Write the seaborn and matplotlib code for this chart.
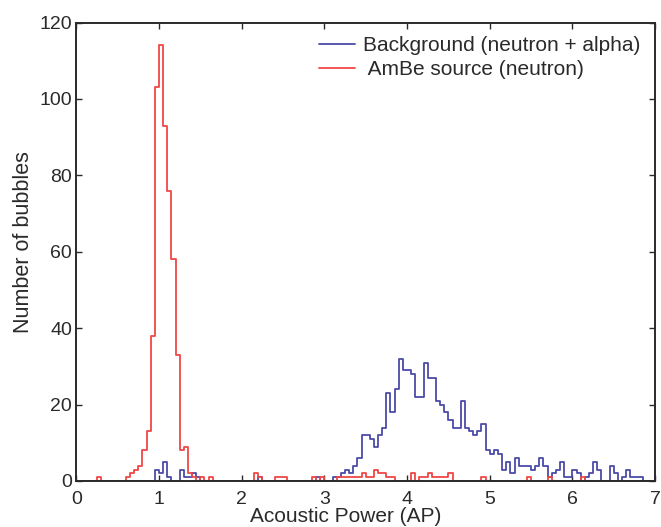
import numpy as np
import pandas as pd
import matplotlib
matplotlib.use("Agg")
import matplotlib.pyplot as plt
from matplotlib.lines import Line2D
import seaborn as sns

# ---------------- data (counts per 0.05-wide bin, 0 .. 7) ----------------
bin_width = 0.05
n_bins = 140

background_counts = [
    # 0.00 - 0.95
    0, 0, 0, 0, 0, 0, 0, 0, 0, 0, 0, 0, 0, 0, 0, 0, 0, 0, 0, 3,
    # 1.00 - 1.95
    2, 5, 1, 0, 0, 3, 1, 1, 2, 1, 0, 0, 0, 0, 0, 0, 0, 0, 0, 0,
    # 2.00 - 2.95
    0, 0, 0, 0, 1, 0, 0, 0, 0, 0, 0, 0, 0, 0, 0, 0, 0, 0, 1, 0,
    # 3.00 - 3.95
    0, 0, 1, 1, 2, 3, 2, 4, 6, 12, 12, 11, 9, 12, 14, 23, 18, 24, 32, 29,
    # 4.00 - 4.95
    29, 28, 22, 22, 31, 27, 27, 21, 20, 18, 16, 14, 14, 21, 14, 13, 12, 13, 15, 8,
    # 5.00 - 5.95
    7, 8, 7, 3, 5, 2, 6, 4, 4, 4, 3, 4, 6, 4, 1, 2, 3, 5, 1, 1,
    # 6.00 - 6.95
    3, 2, 0, 1, 2, 5, 3, 0, 0, 4, 2, 0, 1, 3, 1, 1, 1, 0, 0, 0,
]

ambe_counts = [
    # 0.00 - 0.95
    0, 0, 0, 0, 0, 1, 0, 0, 0, 0, 0, 0, 1, 2, 3, 4, 8, 13, 38, 103,
    # 1.00 - 1.95
    114, 93, 76, 58, 33, 8, 9, 2, 1, 0, 1, 0, 1, 0, 0, 0, 0, 0, 0, 0,
    # 2.00 - 2.95
    0, 0, 0, 2, 1, 0, 0, 0, 1, 1, 1, 0, 0, 0, 0, 0, 0, 1, 0, 1,
    # 3.00 - 3.95
    0, 0, 0, 1, 1, 1, 1, 1, 1, 2, 1, 1, 3, 2, 2, 1, 1, 0, 0, 0,
    # 4.00 - 4.95
    0, 2, 0, 1, 1, 2, 1, 1, 1, 1, 2, 0, 0, 0, 0, 0, 0, 0, 1, 0,
    # 5.00 - 5.95
    0, 0, 0, 0, 0, 0, 0, 0, 0, 1, 0, 0, 0, 0, 1, 0, 0, 0, 0, 0,
    # 6.00 - 6.95
    0, 0, 1, 0, 0, 0, 0, 0, 0, 0, 0, 0, 0, 0, 0, 0, 0, 0, 0, 0,
]

series_labels = ["Background (neutron + alpha)", " AmBe source (neutron)"]
x_ticks = [0, 1, 2, 3, 4, 5, 6, 7]
y_ticks = [0, 20, 40, 60, 80, 100, 120]
x_label = "Acoustic Power (AP)"
y_label = "Number of bubbles"

# ---------------- build tables ----------------
centers = (np.arange(n_bins) + 0.5) * bin_width
bg_df = pd.DataFrame({"ap": centers, "count": np.asarray(background_counts, float)})
ambe_df = pd.DataFrame({"ap": centers, "count": np.asarray(ambe_counts, float)})

# ---------------- style ----------------
sns.set_theme(style="white")
plt.rcParams["font.family"] = ["Liberation Sans", "DejaVu Sans"]
ink = "#2a2a2a"
plt.rcParams["axes.edgecolor"] = ink
plt.rcParams["text.color"] = ink
plt.rcParams["axes.labelcolor"] = ink
plt.rcParams["xtick.color"] = ink
plt.rcParams["ytick.color"] = ink

blue = "#4b4ba8"
red = "#f04646"
lw = 1.3

fig = plt.figure(figsize=(6.61, 5.27), dpi=100)
ax = fig.add_axes([0.1155, 0.0873, 0.8755, 0.8700])

sns.histplot(data=bg_df, x="ap", weights="count", binwidth=bin_width,
             binrange=(0, 7), element="step", fill=False, color=blue,
             linewidth=lw, ax=ax)
sns.histplot(data=ambe_df, x="ap", weights="count", binwidth=bin_width,
             binrange=(0, 7), element="step", fill=False, color=red,
             linewidth=lw, ax=ax)

ax.set_xlim(0, 7)
ax.set_ylim(0, 120)
ax.set_xticks(x_ticks)
ax.set_yticks(y_ticks)
ax.tick_params(axis="both", which="both", direction="in", length=4, width=1,
               top=True, right=True, labelsize=14, bottom=True, left=True)
ax.tick_params(axis="x", pad=7)
ax.tick_params(axis="y", pad=3)

ax.set_xlabel(x_label, fontsize=15)
ax.xaxis.set_label_coords(0.465, -0.056)
ax.xaxis.label.set_va("top")
ax.set_ylabel(y_label, fontsize=15.5)
ax.yaxis.set_label_coords(-0.074, 0.521)

for s in ax.spines.values():
    s.set_visible(True)
    s.set_linewidth(1.4)
    s.set_color(ink)

handles = [Line2D([0], [0], color=blue, lw=lw), Line2D([0], [0], color=red, lw=lw)]
ax.legend(handles, series_labels, loc="upper right", frameon=False,
          fontsize=15, handlelength=1.7, handletextpad=0.4,
          labelspacing=0.25, borderaxespad=0.25, bbox_to_anchor=(0.998, 1.0))

fig.savefig("out.png", dpi=100, facecolor="white")
